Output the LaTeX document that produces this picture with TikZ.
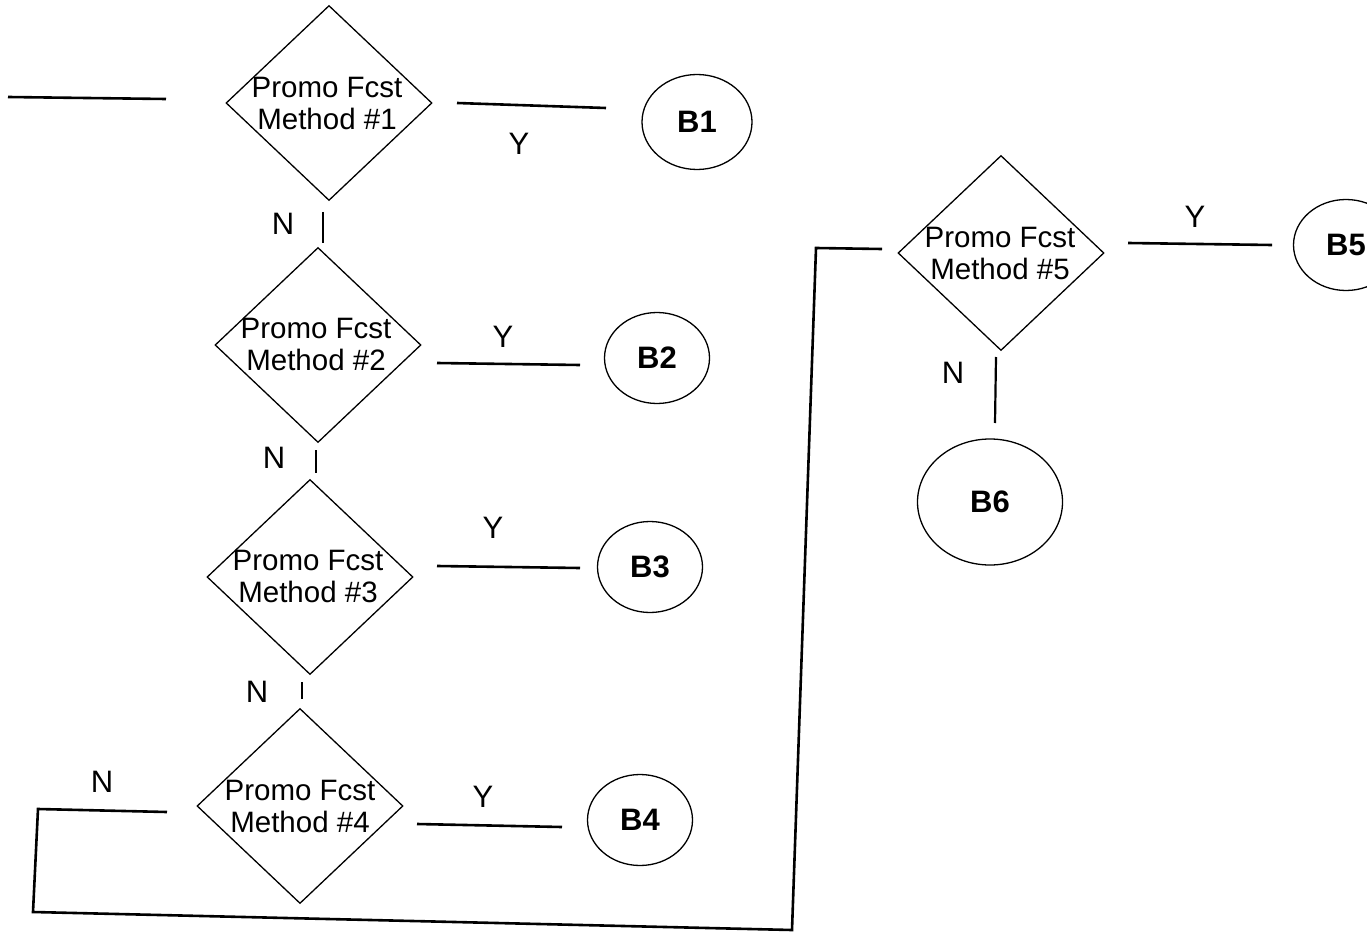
\documentclass[tikz,border=0pt]{standalone}
\usepackage{fontspec}
\setmainfont{Liberation Sans}
\usetikzlibrary{shapes.geometric}
\begin{document}
\begin{tikzpicture}[x=1pt,y=-1pt,
  dia/.style={diamond,draw,line width=1.3pt,inner sep=0pt,minimum width=206pt,minimum height=195pt},
  dtext/.style={align=center,inner sep=0pt,font=\fontsize{29.5}{32}\selectfont},
  bub/.style={ellipse,draw,line width=1.3pt,inner sep=0pt,minimum width=105pt,minimum height=91pt,font=\fontsize{31}{36}\selectfont\bfseries},
  yn/.style={inner sep=0pt,font=\fontsize{31}{36}\selectfont},
  conn/.style={line width=2.6pt},
  tick/.style={line width=2.2pt}]
\useasboundingbox (0,0) rectangle (1367,933);
% decision diamonds
\node[dia] (d1) at (329,103) {};
\node[dtext] (t1) at (327,103) {Promo Fcst\\Method \#1};
\node[dia] (d2) at (318,345) {};
\node[dtext] (t2) at (316,344) {Promo Fcst\\Method \#2};
\node[dia] (d3) at (310,577) {};
\node[dtext] (t3) at (308,576) {Promo Fcst\\Method \#3};
\node[dia] (d4) at (300,806) {};
\node[dtext] (t4) at (300,806) {Promo Fcst\\Method \#4};
\node[dia] (d5) at (1001,253) {};
\node[dtext] (t5) at (1000,253) {Promo Fcst\\Method \#5};
% bubbles
\node[bub,minimum width=110pt,minimum height=95pt] (b1) at (697,122) {B1};
\node[bub] (b2) at (657,358) {B2};
\node[bub] (b3) at (650,567) {B3};
\node[bub] (b4) at (640,820) {B4};
\node[bub] (b5) at (1346,245) {B5};
\node[bub,minimum width=145pt,minimum height=126pt] (b6) at (990,502) {B6};
% connector end points (lines do not touch the shapes)
\coordinate (s0a) at (8,97);   \coordinate (s0b) at (166,99);
\coordinate (y1a) at (457,103); \coordinate (y1b) at (606,108);
\coordinate (y2a) at (437,363); \coordinate (y2b) at (580,365);
\coordinate (y3a) at (437,566); \coordinate (y3b) at (580,568);
\coordinate (y4a) at (417,824); \coordinate (y4b) at (562,827);
\coordinate (y5a) at (1128,243); \coordinate (y5b) at (1272,245);
\coordinate (n1a) at (323,212); \coordinate (n1b) at (323,243);
\coordinate (n2a) at (316,450); \coordinate (n2b) at (316,473);
\coordinate (n3a) at (302,682); \coordinate (n3b) at (302,699);
\coordinate (n5a) at (996,357); \coordinate (n5b) at (995,423);
\coordinate (l0) at (167,812); \coordinate (l1) at (38,809);
\coordinate (l2) at (33,912); \coordinate (l3) at (792,930);
\coordinate (l4) at (816,248); \coordinate (l5) at (882,249);
% connectors
\draw[conn] (s0a) -- (s0b);
\draw[conn] (y1a) -- (y1b);
\draw[conn] (y2a) -- (y2b);
\draw[conn] (y3a) -- (y3b);
\draw[conn] (y4a) -- (y4b);
\draw[conn] (y5a) -- (y5b);
\draw[tick] (n1a) -- (n1b);
\draw[tick] (n2a) -- (n2b);
\draw[tick] (n3a) -- (n3b);
\draw[tick] (n5a) -- (n5b);
\draw[conn,line join=miter] (l0) -- (l1) -- (l2) -- (l3) -- (l4) -- (l5);
% labels
\node[yn] (ly1) at (519,144) {Y};
\node[yn] (ly2) at (503,337) {Y};
\node[yn] (ly3) at (493,528) {Y};
\node[yn] (ly4) at (483,797) {Y};
\node[yn] (ly5) at (1195,217) {Y};
\node[yn] (ln1) at (283,224) {N};
\node[yn] (ln2) at (274,458) {N};
\node[yn] (ln3) at (257,692) {N};
\node[yn] (ln4) at (102,782) {N};
\node[yn] (ln5) at (953,373) {N};
\end{tikzpicture}
\end{document}
